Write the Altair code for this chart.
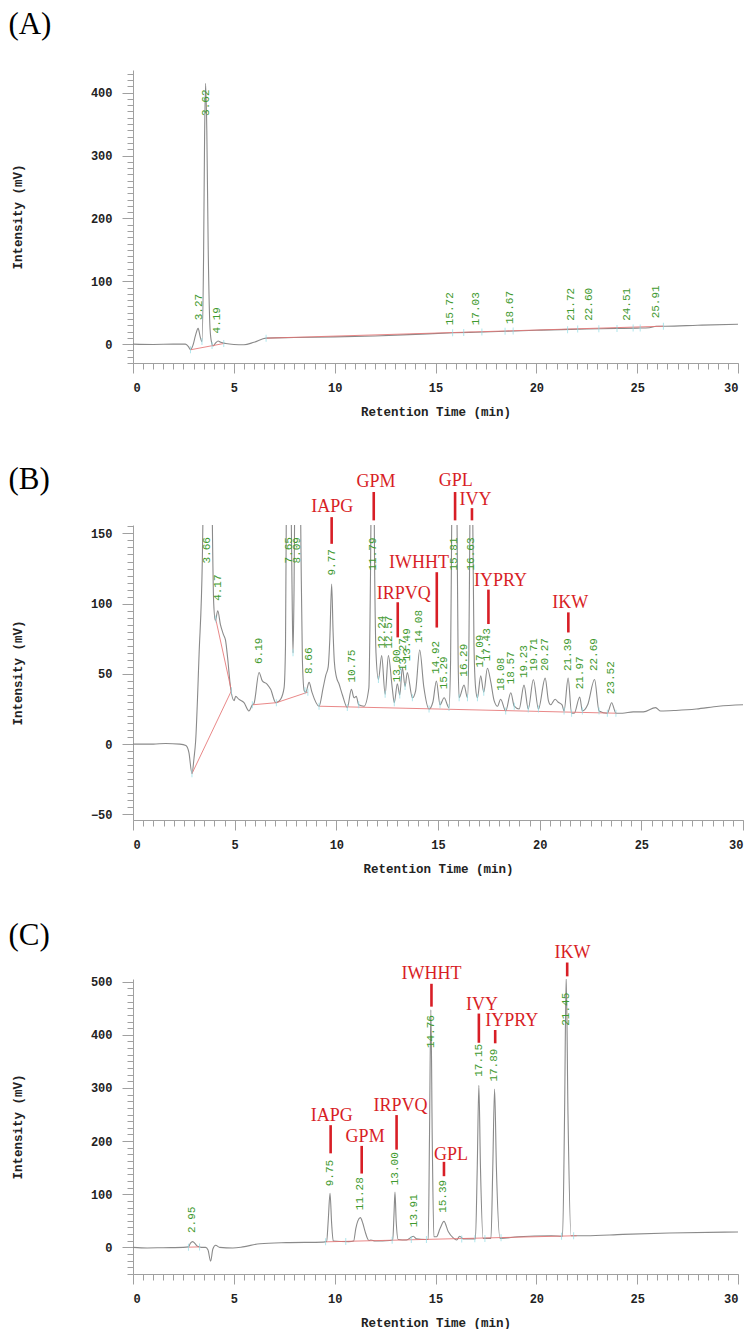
import altair as alt
import pandas as pd

# ---------------- Panel A ----------------
A_time = [0.0, 1.0, 2.0, 2.6, 2.75, 2.85, 2.97, 3.1, 3.23, 3.33,
          3.42, 3.5, 3.55, 3.6, 3.66, 3.73, 3.82, 3.9, 3.97, 4.1,
          4.22, 4.35, 4.6, 5.0, 5.5, 6.0, 6.6, 8.0, 10.0, 12.0,
          14.0, 15.9, 17.0, 18.5, 20.0, 21.7, 22.5, 24.0, 25.0, 25.6,
          25.95, 26.4, 28.0, 30.0]
A_signal = [0.0, -0.5, 0.0, 0.0, -4.0, -9.0, -2.0, 14.0, 25.0, 12.0,
            4.0, 140.0, 330.0, 415.0, 340.0, 150.0, 25.0, 2.0, -3.0, 2.0,
            5.0, 3.0, 1.0, -0.5, -1.0, 3.0, 9.5, 10.5, 11.5, 13.0,
            15.5, 18.0, 19.0, 20.5, 22.0, 23.5, 24.0, 25.0, 25.5, 26.0,
            28.5, 28.5, 30.0, 31.7]
A_base_seg = [0, 0, 1, 1]
A_base_time = [2.85, 4.5, 6.6, 26.3]
A_base_signal = [-9.0, 1.0, 9.5, 28.5]
A_cut_time = [2.85, 3.42, 3.92, 4.5, 6.6, 15.85, 16.4, 17.3, 18.45, 18.85,
              21.55, 22.05, 23.1, 24.0, 24.8, 25.15, 26.3]
A_cut_signal = [-9, 4, -2, 1, 9.5, 18, 18.5, 19.5, 20.5, 21,
                23, 24, 24.5, 25, 25.5, 25.5, 28.5]
A_rt = [3.27, 3.62, 4.19, 15.72, 17.03, 18.67, 21.72, 22.60, 24.51, 25.91]
A_rt_level = [38, 363, 17, 30, 30, 32, 37, 37, 37, 41]

# ---------------- Panel B ----------------
B_time = [0.0, 1.0, 1.6, 2.3, 2.6, 2.75, 2.9, 3.0, 3.08, 3.25,
          3.41, 3.5, 3.66, 3.8, 3.9, 3.97, 4.05, 4.17, 4.3, 4.45,
          4.55, 4.65, 4.8, 4.97, 5.05, 5.2, 5.46, 5.7, 5.87, 5.95,
          6.2, 6.36, 6.6, 6.77, 7.02, 7.26, 7.43, 7.5, 7.56, 7.65,
          7.74, 7.83, 7.87, 7.92, 8.0, 8.09, 8.18, 8.26, 8.33, 8.42,
          8.5, 8.66, 8.8, 9.15, 9.35, 9.48, 9.6, 9.68, 9.77, 9.84,
          9.9, 10.0, 10.13, 10.3, 10.54, 10.74, 10.87, 10.98, 11.1, 11.36,
          11.6, 11.68, 11.75, 11.82, 11.88, 11.95, 12.07, 12.23, 12.4, 12.56,
          12.75, 12.85, 13.0, 13.12, 13.25, 13.38, 13.49, 13.74, 13.9, 14.1,
          14.3, 14.56, 14.75, 14.92, 15.1, 15.3, 15.54, 15.62, 15.68, 15.81,
          15.93, 15.99, 16.04, 16.28, 16.45, 16.52, 16.57, 16.64, 16.71, 16.77,
          16.85, 16.94, 17.1, 17.25, 17.43, 17.6, 17.76, 17.93, 18.08, 18.33,
          18.58, 18.75, 18.99, 19.23, 19.44, 19.69, 19.94, 20.27, 20.43, 20.54,
          20.76, 20.9, 21.1, 21.2, 21.4, 21.57, 21.7, 21.97, 22.1, 22.36,
          22.7, 22.92, 23.33, 23.54, 23.75, 24.07, 24.6, 25.1, 25.7, 25.95,
          26.7, 27.7, 28.8, 30.0]
B_signal = [0.0, 0.0, 0.5, 0.0, -1.0, -6.0, -21.0, -10.0, 2.0, 64.0,
            131.0, 220.0, 450.0, 330.0, 160.0, 100.0, 88.0, 95.0, 85.0, 78.0,
            74.0, 62.0, 40.0, 31.0, 34.0, 32.0, 29.5, 23.6, 28.0, 29.0,
            51.0, 45.0, 42.6, 39.0, 29.5, 32.0, 40.0, 70.0, 220.0, 330.0,
            220.0, 100.0, 65.0, 110.0, 260.0, 350.0, 260.0, 140.0, 60.0, 38.0,
            37.0, 44.0, 37.0, 27.0, 40.0, 49.0, 55.0, 75.0, 114.0, 80.0,
            59.0, 48.0, 43.0, 35.0, 26.0, 39.0, 33.0, 34.0, 28.0, 27.0,
            40.0, 120.0, 230.0, 240.0, 130.0, 65.0, 46.0, 63.0, 35.5, 63.0,
            40.0, 29.5, 43.0, 35.0, 54.5, 41.0, 51.0, 33.0, 38.0, 67.0,
            41.0, 25.0, 30.0, 45.0, 28.0, 33.0, 26.0, 60.0, 170.0, 320.0,
            170.0, 60.0, 33.0, 42.0, 33.0, 70.0, 160.0, 240.0, 160.0, 70.0,
            40.0, 33.0, 48.6, 37.0, 54.0, 44.0, 31.0, 27.0, 32.0, 23.6,
            36.6, 27.0, 25.0, 42.0, 25.0, 46.0, 25.0, 47.0, 31.0, 28.0,
            32.0, 30.0, 28.0, 23.6, 47.0, 22.0, 22.0, 33.6, 23.6, 28.0,
            46.0, 23.6, 22.0, 29.5, 22.0, 22.0, 23.0, 23.0, 26.0, 23.6,
            24.0, 25.0, 27.0, 28.0]
B_base_seg = [0, 0, 1, 1, 2, 2, 2, 3, 3]
B_base_time = [2.9, 4.84, 4.07, 4.84, 5.87, 7.05, 8.6, 9.15, 23.8]
B_base_signal = [-21, 38, 89, 38, 28, 29.5, 37, 27, 22]
B_cut_time = [2.9, 4.07, 4.84, 5.87, 7.05, 7.87, 8.46, 8.6, 9.15, 10.54,
              11.1, 12.07, 12.4, 12.85, 13.12, 13.38, 13.74, 14.56, 15.1, 15.54,
              16.04, 16.45, 16.94, 17.25, 18.33, 18.75, 19.44, 19.94, 21.2, 21.57,
              22.1, 22.92, 23.33, 23.75]
B_cut_signal = [-21, 89, 38, 28, 29.5, 65, 38, 37, 27, 26,
                28, 46, 35.5, 29.5, 35, 41, 33, 25, 28, 26,
                33, 33, 33, 37, 23.6, 27, 25, 25, 23.6, 22,
                23.6, 23.6, 22, 22]
B_rt = [3.66, 4.17, 6.19, 7.65, 8.09, 8.66, 9.77, 10.75, 11.79, 12.24,
        12.57, 13.00, 13.27, 13.49, 14.08, 14.92, 15.29, 15.81, 16.29, 16.63,
        17.09, 17.43, 18.08, 18.57, 19.23, 19.71, 20.27, 21.39, 21.97, 22.69,
        23.52]
B_rt_level = [128.6, 102, 57, 128.6, 128.6, 50, 120, 43.8, 123.6, 68,
              68, 44, 52, 59, 72, 50, 39, 123.6, 48, 123.6,
              54.5, 59, 38, 42.6, 47, 52, 52, 52, 39, 52,
              35.5]
B_pep = ["IAPG", "GPM", "GPL", "IVY", "IWHHT", "IRPVQ", "IYPRY", "IKW"]
B_pep_text_time = [9.8, 11.95, 15.87, 16.84, 14.07, 13.31, 18.07, 21.5]
B_pep_text_level = [165, 183, 183.6, 170.5, 125.2, 103.4, 112.4, 97]
B_pep_line_time = [9.77, 11.84, 15.84, 16.67, 14.94, 13.02, 17.48, 21.41]
B_pep_line_top = [161.6, 179.5, 179.5, 168, 122.4, 101, 110, 93.8]
B_pep_line_bottom = [142.6, 159.3, 159.3, 159.3, 83, 76, 85.5, 79.5]

# ---------------- Panel C ----------------
C_time = [0.0, 0.7, 1.5, 2.5, 2.75, 2.85, 2.96, 3.08, 3.2, 3.4,
          3.6, 3.72, 3.85, 3.96, 4.1, 4.3, 4.95, 5.45, 6.3, 7.6,
          9.43, 9.6, 9.68, 9.77, 9.85, 9.93, 10.7, 10.94, 11.05, 11.15,
          11.27, 11.4, 11.5, 11.7, 11.8, 12.0, 12.74, 12.88, 12.94, 12.99,
          13.05, 13.15, 13.56, 13.9, 14.06, 14.5, 14.64, 14.7, 14.77, 14.84,
          14.92, 15.05, 15.22, 15.42, 15.63, 15.88, 16.05, 16.2, 16.38, 16.7,
          16.98, 17.07, 17.15, 17.23, 17.36, 17.75, 17.84, 17.93, 18.02, 18.2,
          19.1, 20.75, 21.3, 21.4, 21.48, 21.57, 21.72, 22.45, 24.3, 26.6,
          30.0]
C_signal = [0.0, -1.0, -0.5, 0.0, 1.0, 8.0, 11.0, 7.0, 2.0, 0.0,
            0.0, -5.0, -26.0, -3.0, 4.0, 0.0, -1.0, 1.0, 7.0, 9.0,
            10.0, 11.0, 50.0, 102.0, 45.0, 12.0, 11.0, 12.0, 36.0, 50.0,
            56.0, 45.0, 31.0, 13.0, 14.0, 12.0, 13.0, 14.0, 60.0, 104.0,
            50.0, 15.0, 14.0, 21.0, 16.0, 15.0, 15.0, 200.0, 447.0, 200.0,
            20.0, 20.0, 35.0, 49.0, 30.0, 18.0, 14.0, 21.0, 16.0, 16.0,
            16.0, 150.0, 305.0, 150.0, 17.0, 17.0, 150.0, 298.0, 150.0, 17.0,
            20.0, 22.0, 21.0, 250.0, 510.0, 250.0, 22.0, 22.0, 24.5, 27.0,
            29.0]
C_base_seg = [0, 0, 1, 1]
C_base_time = [2.75, 3.3, 9.55, 22.0]
C_base_signal = [0.5, 1.0, 10.5, 22.0]
C_cut_time = [2.75, 3.3, 9.55, 10.55, 12.85, 13.8, 14.55, 16.3, 16.95, 17.45,
              18.25, 21.25, 21.85]
C_cut_signal = [0.5, 1, 10.5, 11, 13.5, 15, 15, 16, 16.5, 17,
                18, 21, 22]
C_rt = [2.95, 9.75, 11.28, 13.00, 13.91, 14.76, 15.39, 17.15, 17.89, 21.45]
C_rt_level = [27, 115, 70, 117, 38, 375, 65, 321, 312, 417]
C_pep = ["IAPG", "GPM", "IRPVQ", "IWHHT", "GPL", "IVY", "IYPRY", "IKW"]
C_pep_text_time = [9.85, 11.51, 13.27, 14.8, 15.77, 17.3, 18.78, 21.79]
C_pep_text_level = [238, 198.7, 257, 505.7, 164, 447, 415.7, 544.7]
C_pep_line_time = [9.8, 11.34, 13.07, 14.8, 15.42, 17.15, 17.96, 21.53]
C_pep_line_top = [230, 191, 249, 496, 161, 440, 409, 536]
C_pep_line_bottom = [177, 139, 184, 453, 134, 385, 384, 510]

# ---------------- styling ----------------
MONO = "Liberation Mono"
SERIF = "Liberation Serif"
TRACE = "#8a8a8a"
BASE_RED = "#e57373"
CYAN = "#8fdbe4"
GREEN = "#3f9a2f"
RED = "#d81e26"
AXIS_GRAY = "#a0a0a0"


def panel(letter, title_offset, width, height, y_domain, y_ticks, y_major,
          tr_t, tr_v, bs_seg, bs_t, bs_v, ct_t, ct_v, rt, rt_level,
          pep=None, pep_tt=None, pep_tv=None, pep_lt=None, pep_l1=None, pep_l2=None):
    y0, y1, ystep = y_ticks
    n = int(round((y1 - y0) / ystep))
    y_minor = [y0 + i * ystep for i in range(n + 1)]
    y_major_vals = [v for v in y_minor if abs(v / y_major - round(v / y_major)) < 1e-9]
    x_minor = [i * 0.5 for i in range(61)]
    x_major = [i * 5 for i in range(7)]

    xscale = alt.Scale(domain=[0, 30], nice=False, zero=False)
    yscale = alt.Scale(domain=y_domain, nice=False, zero=False)

    x_axis_major = alt.Axis(
        values=x_major, format="d", tickSize=10, labelPadding=9,
        orient="bottom", title="Retention Time (min)", titlePadding=12,
    )
    y_axis_major = alt.Axis(
        values=y_major_vals, format="d", tickSize=11, labelPadding=10,
        orient="left", labelFlush=False,
        title="Intensity (mV)", titlePadding=66,
    )
    x_axis_minor = alt.Axis(
        values=x_minor, tickSize=6, labels=False, domain=False,
        orient="bottom", title=None,
    )
    y_axis_minor = alt.Axis(
        values=y_minor, tickSize=6, labels=False, domain=False,
        orient="left", title=None,
    )

    df_tr = pd.DataFrame({"t": tr_t, "v": tr_v})
    df_bs = pd.DataFrame({"seg": bs_seg, "t": bs_t, "v": bs_v})
    df_ct = pd.DataFrame({"t": ct_t, "v": ct_v})
    df_rt = pd.DataFrame({"t": rt, "v": rt_level, "label": [f"{r:.2f}" for r in rt]})

    X = alt.X("t:Q", axis=None)
    Y = alt.Y("v:Q", axis=None)

    trace = alt.Chart(df_tr).mark_line(
        color=TRACE, strokeWidth=1.1, interpolate="monotone", clip=True
    ).encode(
        x=alt.X("t:Q", scale=xscale, axis=x_axis_major),
        y=alt.Y("v:Q", scale=yscale, axis=y_axis_major),
    )
    base = alt.Chart(df_bs).mark_line(color=BASE_RED, strokeWidth=1, opacity=0.85, clip=True).encode(
        x=alt.X("t:Q", axis=x_axis_minor),
        y=alt.Y("v:Q", axis=y_axis_minor),
        detail="seg:N",
    )
    cuts = alt.Chart(df_ct).mark_tick(orient="vertical", color=CYAN, size=7, thickness=1).encode(
        x=X, y=Y
    )
    labels = alt.Chart(df_rt).mark_text(
        angle=270, align="left", baseline="middle", font=MONO, fontSize=11, color=GREEN
    ).encode(x=X, y=Y, text="label:N")

    layers = [trace, base, cuts, labels]
    if pep is not None:
        df_pt = pd.DataFrame({"t": pep_tt, "v": pep_tv, "name": pep})
        df_pl = pd.DataFrame({"t": pep_lt, "v": pep_l1, "v2": pep_l2})
        rules = alt.Chart(df_pl).mark_rule(color=RED, strokeWidth=2.6).encode(
            x=X, y=Y, y2="v2:Q"
        )
        names = alt.Chart(df_pt).mark_text(
            font=SERIF, fontSize=18, color=RED, align="center", baseline="alphabetic"
        ).encode(x=X, y=Y, text="name:N")
        layers += [rules, names]

    return alt.layer(*layers).resolve_axis(x="independent", y="independent").properties(
        width=width, height=height,
        title=alt.TitleParams(
            text=letter, anchor="start", font=SERIF, fontSize=31,
            fontWeight="normal", color="#000000", offset=title_offset, dx=-3,
        ),
    )


chart_a = panel("(A)", 29.5, 605, 293, [-30, 436], (-30, 430, 10), 100,
                A_time, A_signal, A_base_seg, A_base_time, A_base_signal,
                A_cut_time, A_cut_signal, A_rt, A_rt_level)
chart_b = panel("(B)", -23.3, 610, 295, [-54, 156], (-50, 155, 5), 50,
                B_time, B_signal, B_base_seg, B_base_time, B_base_signal,
                B_cut_time, B_cut_signal, B_rt, B_rt_level,
                B_pep, B_pep_text_time, B_pep_text_level, B_pep_line_time,
                B_pep_line_top, B_pep_line_bottom)
chart_c = panel("(C)", -8.4, 605, 295, [-50, 505], (-50, 500, 12.5), 100,
                C_time, C_signal, C_base_seg, C_base_time, C_base_signal,
                C_cut_time, C_cut_signal, C_rt, C_rt_level,
                C_pep, C_pep_text_time, C_pep_text_level, C_pep_line_time,
                C_pep_line_top, C_pep_line_bottom)

chart = alt.vconcat(chart_a, chart_b, chart_c, spacing=45, padding=0).configure_view(
    stroke=None
).configure_axis(
    grid=False,
    domainColor=AXIS_GRAY, tickColor=AXIS_GRAY, domainWidth=1, tickWidth=1,
    labelFont=MONO, labelFontWeight="bold", labelFontSize=12, labelColor="#222222",
    titleFont=MONO, titleFontWeight="bold", titleFontSize=12.5, titleColor="#222222",
)

chart.save("out.html", embed_options={"renderer": "svg", "actions": False})
